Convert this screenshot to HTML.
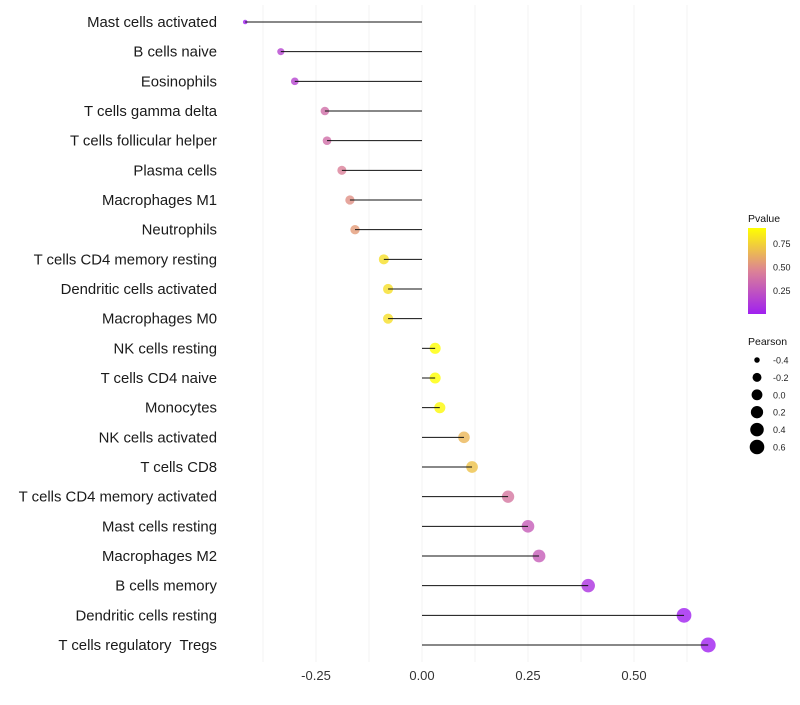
<!DOCTYPE html>
<html><head><meta charset="utf-8"><style>
body{margin:0;background:#fff;font-family:"Liberation Sans",sans-serif}
svg text{font-family:"Liberation Sans",sans-serif;white-space:pre}
</style></head><body>
<svg id="chart" width="800" height="700"></svg>
<script>
const categories=["Mast cells activated","B cells naive","Eosinophils","T cells gamma delta","T cells follicular helper","Plasma cells","Macrophages M1","Neutrophils","T cells CD4 memory resting","Dendritic cells activated","Macrophages M0","NK cells resting","T cells CD4 naive","Monocytes","NK cells activated","T cells CD8","T cells CD4 memory activated","Mast cells resting","Macrophages M2","B cells memory","Dendritic cells resting","T cells regulatory  Tregs"];
const pearson=[-0.417,-0.333,-0.300,-0.229,-0.224,-0.189,-0.170,-0.158,-0.090,-0.080,-0.080,0.031,0.031,0.042,0.099,0.118,0.203,0.250,0.276,0.392,0.618,0.675];
const pvalues=[0.02,0.18,0.18,0.38,0.38,0.46,0.52,0.56,0.8,0.8,0.8,0.92,0.92,0.9,0.66,0.7,0.42,0.3,0.3,0.1,0.02,0.02];
const xTicks=[-0.25,0,0.25,0.5];
const xTickLabels=["-0.25","0.00","0.25","0.50"];
const pTicks=[0.25,0.5,0.75];
const sizeLegend=[-0.4,-0.2,0,0.2,0.4,0.6];

const NS="http://www.w3.org/2000/svg";
const svg=document.getElementById('chart');
function mk(t,a,p){const e=document.createElementNS(NS,t);for(const k in a)e.setAttribute(k,a[k]);(p||svg).appendChild(e);return e;}
const x=v=>422+v*424;
const y=i=>22+i*(623/21);
const r=v=>2+5.5*Math.sqrt(Math.max(0,(v+0.42)/1.095));
function col(p){const t=Math.max(0,Math.min(1,(p-0.02)/0.9));
 const a=[160,32,240],b=[255,255,0],m=[220,130,150];
 let c;if(t<0.5){const s=t*2;c=a.map((v,k)=>v+(m[k]-v)*s);}else{const s=(t-0.5)*2;c=m.map((v,k)=>v+(b[k]-v)*s);}
 return `rgb(${c.map(Math.round).join(',')})`;}
for(let g=-0.375;g<=0.7;g+=0.125){const l=mk('line',{x1:x(g),x2:x(g),y1:5,y2:662,stroke:'#f3f3f3','stroke-width':1});

}
xTicks.forEach((t,i)=>{const e=mk('text',{x:x(t),y:680,'text-anchor':'middle','font-size':13,fill:'#333'});e.textContent=xTickLabels[i];

});
categories.forEach((c,i)=>{
 const t=mk('text',{x:217,y:y(i)+5,'text-anchor':'end','font-size':14.9,fill:'#1a1a1a'});t.textContent=c;
 
 
 const d=mk('circle',{cx:x(pearson[i]),cy:y(i),r:r(pearson[i]),fill:col(pvalues[i]),'fill-opacity':0.8});
 
 
 const l=mk('line',{x1:x(0),x2:x(pearson[i]),y1:y(i),y2:y(i),stroke:'#111','stroke-width':1});
 
 
});
const lt=mk('text',{x:748,y:222,'font-size':10.5,fill:'#111'});lt.textContent='Pvalue';


const defs=mk('defs',{});const gr=mk('linearGradient',{id:'pg',x1:0,y1:1,x2:0,y2:0},defs);
for(let s=0;s<=10;s++){mk('stop',{offset:s/10,'stop-color':col(0.02+0.9*s/10)},gr);}
const bar=mk('rect',{x:748,y:228,width:18,height:86,fill:'url(#pg)'});


const py=p=>314-(p-0.0)*(86/0.915);
pTicks.forEach(p=>{const e=mk('text',{x:773,y:py(p)+3.5,'font-size':9,fill:'#222'});e.textContent=p.toFixed(2);

});
const st=mk('text',{x:748,y:345,'font-size':10.5,fill:'#111'});st.textContent='Pearson';


sizeLegend.forEach((v,i)=>{const cy=360+i*17.4;
 const c=mk('circle',{cx:757,cy:cy,r:r(v),fill:'#000'});
 
 
 const e=mk('text',{x:773,y:cy+3.5,'font-size':9,fill:'#222'});e.textContent=v.toFixed(1);
 
 });
</script>
</body></html>
